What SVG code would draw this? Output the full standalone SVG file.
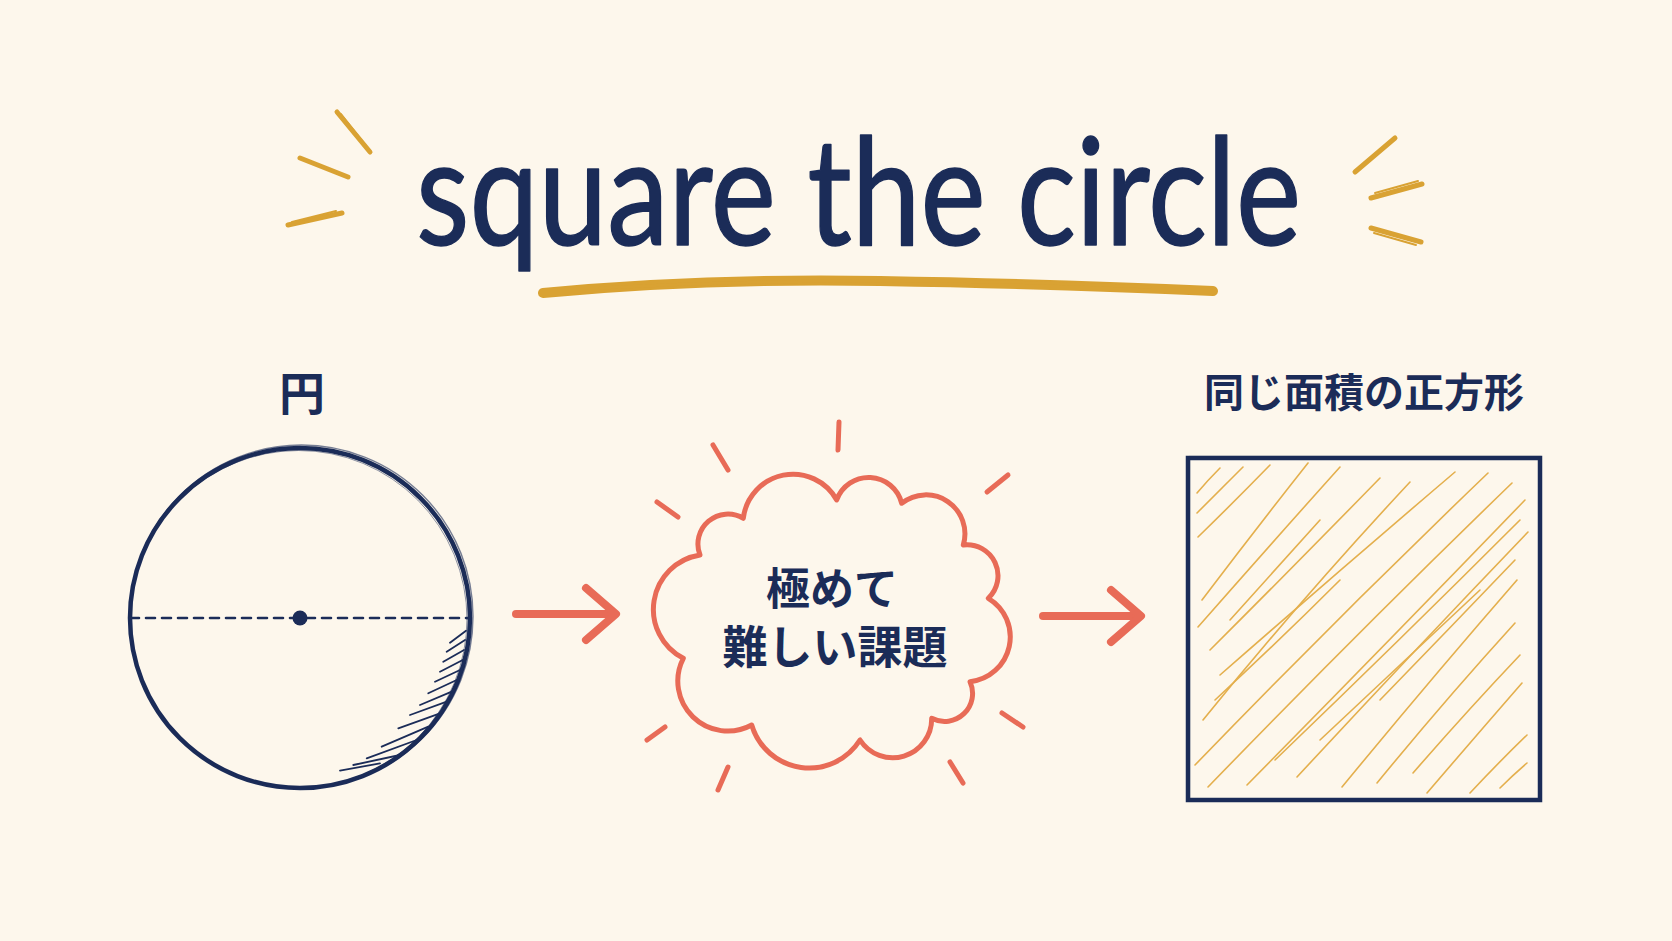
<svg xmlns="http://www.w3.org/2000/svg" width="1672" height="941" viewBox="0 0 1672 941">
  <defs>
    <style>
      .navy{fill:#1b2c58}
      .title{font-family:Lato,"Noto Sans",sans-serif;font-size:150px;fill:#1b2c58;stroke:#1b2c58;stroke-width:1.5;stroke-linejoin:round}
      .jp{font-family:"Noto Sans CJK JP","Noto Sans",sans-serif;font-weight:700;fill:#1b2c58}
      .gold{stroke:#d9a233;fill:none;stroke-linecap:round}
      .coral{stroke:#e86b57;fill:none;stroke-linecap:round;stroke-linejoin:round}
      .hatch{stroke:#e2a83c;fill:none;stroke-width:1.6;stroke-linecap:round;opacity:0.9}
      .ink{stroke:#1b2c58;fill:none;stroke-linecap:round}
    </style>
  </defs>
  <rect width="1672" height="941" fill="#fdf7ec"/>

  <g id="title">
    <text class="title" x="416" y="245" textLength="885" lengthAdjust="spacingAndGlyphs">square the circle</text>
    <path class="gold" d="M 543 293 Q 700 278 880 281 T 1213 291" stroke-width="10"/>
    <path class="gold" d="M 600 288 Q 880 274 1150 287" stroke-width="3" opacity="0.5"/>
    <g id="sparks-left">
      <path class="gold" d="M 337 112 L 370 152" stroke-width="5"/>
      <path class="gold" d="M 341 114 L 366 146" stroke-width="2"/>
      <path class="gold" d="M 300 158 L 348 177" stroke-width="5"/>
      <path class="gold" d="M 288 225 L 342 213" stroke-width="5"/>
      <path class="gold" d="M 292 222 L 336 211" stroke-width="2"/>
    </g>
    <g id="sparks-right">
      <path class="gold" d="M 1355 172 L 1395 138" stroke-width="5"/>
      <path class="gold" d="M 1371 198 L 1422 184" stroke-width="5"/>
      <path class="gold" d="M 1375 193 L 1418 181" stroke-width="2"/>
      <path class="gold" d="M 1371 228 L 1421 242" stroke-width="5"/>
      <path class="gold" d="M 1374 233 L 1416 245" stroke-width="2"/>
    </g>
  </g>

  <g id="circle-node">
    <text class="jp" x="302" y="410" font-size="46" text-anchor="middle">円</text>
    <circle class="ink" cx="300" cy="618" r="170" stroke-width="4.5"/>
    <circle class="ink" cx="301.5" cy="616.5" r="171.5" stroke-width="1.4" opacity="0.6"/>
    <circle class="ink" cx="298.5" cy="619" r="168.5" stroke-width="1" opacity="0.5"/>
    <line class="ink" x1="130" y1="618" x2="470" y2="618" stroke-width="2.6" stroke-dasharray="9 7" stroke-linecap="butt"/>
    <circle class="navy" cx="300" cy="618" r="7.5"/>
    <g id="circle-hatch" class="ink" stroke-width="1.8">
      <path d="M 450 642.7 L 466 630.7 M 446.7 651.7 L 465 640 M 443.3 661.7 L 464 650 M 440 671.7 L 462.7 660 M 435 681.7 L 460 670 M 428.3 693.3 L 456.7 680 M 420 705 L 451.7 691.7 M 410 715 L 446.7 701.7 M 398.3 728.3 L 440 713.3 M 381.7 746.7 L 428.3 726.7 M 366.7 758.3 L 416.7 740 M 353.3 765 L 400 755 M 340 770.7 L 380 763.3"/>
    </g>
  </g>

  <g id="cloud-node">
    <path class="coral" stroke-width="5" d="M 700 555 A 30 30 0 0 1 743.3 518.3 A 50 50 0 0 1 836.7 500 A 34 34 0 0 1 901.7 503.3 A 39 39 0 0 1 963.3 545 A 31 31 0 0 1 988.3 598.3 A 45 45 0 0 1 970 681.7 A 28 28 0 0 1 931.7 718.3 A 39 39 0 0 1 860 740 A 60 60 0 0 1 751.7 725 A 50 50 0 0 1 683.3 658.3 A 55 55 0 0 1 700 555 Z"/>
    <g id="rays" class="coral" stroke-width="5">
      <path d="M 839 422 L 838 450"/>
      <path d="M 713 445 L 728 470"/>
      <path d="M 657 502 L 678 517"/>
      <path d="M 1008 475 L 987 492"/>
      <path d="M 1002 713 L 1023 727"/>
      <path d="M 950 762 L 963 783"/>
      <path d="M 728 767 L 718 790"/>
      <path d="M 665 727 L 647 740"/>
    </g>
    <text class="jp" x="832" y="605" font-size="44" text-anchor="middle">極めて</text>
    <text class="jp" x="835" y="664" font-size="45" text-anchor="middle">難しい課題</text>
  </g>

  <g id="square-node">
    <text class="jp" x="1364" y="407" font-size="40" text-anchor="middle">同じ面積の正方形</text>
    <g id="square-hatch" class="hatch">
      <path d="M 1197 493 Q 1208 480 1220 468"/>
      <path d="M 1197 513 Q 1220 490 1243 467"/>
      <path d="M 1198 537 Q 1236 500 1270 465"/>
      <path d="M 1202 600 Q 1255 530 1308 463"/>
      <path d="M 1198 627 Q 1270 545 1340 467"/>
      <path d="M 1210 650 Q 1300 560 1380 478"/>
      <path d="M 1220 675 Q 1340 570 1455 472"/>
      <path d="M 1203 720 Q 1300 600 1410 482"/>
      <path d="M 1195 765 Q 1340 615 1488 473"/>
      <path d="M 1208 787 Q 1360 630 1512 483"/>
      <path d="M 1247 785 Q 1390 640 1525 500"/>
      <path d="M 1297 777 Q 1410 655 1528 532"/>
      <path d="M 1342 787 Q 1430 680 1517 580"/>
      <path d="M 1377 783 Q 1445 700 1515 623"/>
      <path d="M 1413 773 Q 1466 712 1520 655"/>
      <path d="M 1427 793 Q 1475 737 1522 683"/>
      <path d="M 1470 793 Q 1498 763 1527 735"/>
      <path d="M 1500 788 Q 1513 775 1527 763"/>
      <path d="M 1275 760 Q 1400 640 1520 520"/>
      <path d="M 1320 740 Q 1400 665 1480 590"/>
      <path d="M 1230 620 Q 1275 570 1320 520"/>
      <path d="M 1380 700 Q 1448 630 1515 560"/>
      <path d="M 1215 700 Q 1280 640 1340 580"/>
    </g>
    <rect x="1188" y="458" width="352" height="342" fill="none" stroke="#1b2c58" stroke-width="4.5"/>
    <rect x="1189.5" y="456.5" width="351" height="344" fill="none" stroke="#1b2c58" stroke-width="1.2" opacity="0.5"/>
  </g>

  <g id="connectors" class="coral" stroke-width="8">
    <path d="M 516 614 L 614 614"/>
    <path d="M 586 588 L 616 614 L 586 640"/>
    <path d="M 1043 616 L 1139 616"/>
    <path d="M 1111 590 L 1141 616 L 1111 642"/>
  </g>
</svg>
